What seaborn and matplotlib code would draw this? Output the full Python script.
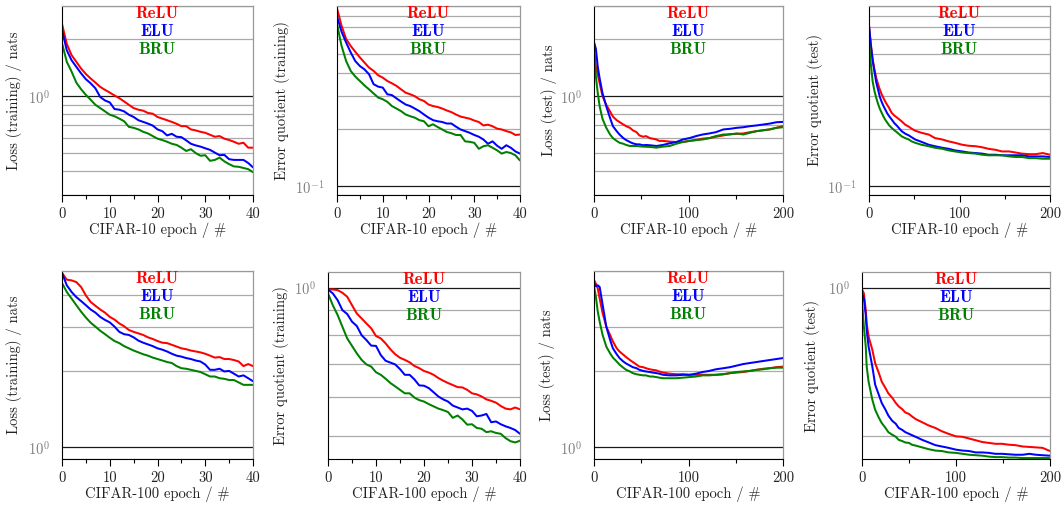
import numpy as np
import pandas as pd
import matplotlib
matplotlib.use("Agg")
import matplotlib.pyplot as plt
import seaborn as sns
from matplotlib.ticker import FixedLocator, FixedFormatter, NullFormatter, MultipleLocator

sns.set_theme(style="ticks")
plt.rcParams["font.family"] = "cmr10"
plt.rcParams["mathtext.fontset"] = "cm"
plt.rcParams["axes.unicode_minus"] = False

UNITS = ["ReLU", "ELU", "BRU"]
COLORS = {"ReLU": "#ff0000", "ELU": "#0000ff", "BRU": "#008000"}

# ---- CIFAR-10 (top row) ----
EPOCHS_40 = list(range(41))

c10_loss_train_relu = [2.41, 1.89, 1.65, 1.52, 1.40, 1.31, 1.24, 1.18, 1.12, 1.08, 1.045, 1.008, 0.976, 0.938, 0.90,
                       0.865, 0.848, 0.838, 0.815, 0.808, 0.776, 0.761, 0.746, 0.731, 0.714, 0.694, 0.694, 0.667,
                       0.659, 0.648, 0.64, 0.625, 0.61, 0.615, 0.596, 0.586, 0.574, 0.56, 0.567, 0.534, 0.534]
c10_loss_train_elu = [2.24, 1.75, 1.55, 1.43, 1.32, 1.23, 1.17, 1.10, 0.99, 0.949, 0.927, 0.855, 0.848, 0.831, 0.798,
                      0.776, 0.746, 0.731, 0.716, 0.699, 0.667, 0.653, 0.62, 0.632, 0.61, 0.607, 0.584, 0.56, 0.549,
                      0.541, 0.53, 0.52, 0.503, 0.487, 0.489, 0.464, 0.46, 0.46, 0.46, 0.443, 0.42]
c10_loss_train_bru = [1.91, 1.52, 1.35, 1.18, 1.088, 1.016, 0.957, 0.90, 0.865, 0.831, 0.798, 0.783, 0.761, 0.737,
                      0.688, 0.68, 0.667, 0.648, 0.635, 0.615, 0.596, 0.586, 0.574, 0.56, 0.552, 0.534, 0.513, 0.524,
                      0.50, 0.484, 0.487, 0.455, 0.46, 0.473, 0.452, 0.437, 0.425, 0.423, 0.417, 0.411, 0.396]

c10_err_train_relu = [0.874, 0.707, 0.601, 0.553, 0.515, 0.481, 0.452, 0.425, 0.408, 0.387, 0.376, 0.361, 0.351, 0.34,
                      0.326, 0.313, 0.307, 0.30, 0.289, 0.283, 0.271, 0.266, 0.263, 0.258, 0.252, 0.247, 0.24, 0.234,
                      0.231, 0.228, 0.223, 0.219, 0.21, 0.212, 0.208, 0.202, 0.2, 0.196, 0.193, 0.187, 0.188]
c10_err_train_elu = [0.793, 0.657, 0.576, 0.511, 0.46, 0.433, 0.416, 0.392, 0.347, 0.337, 0.333, 0.307, 0.304, 0.292,
                     0.281, 0.271, 0.266, 0.258, 0.25, 0.24, 0.231, 0.224, 0.221, 0.219, 0.215, 0.215, 0.207, 0.2,
                     0.196, 0.192, 0.187, 0.183, 0.177, 0.168, 0.173, 0.164, 0.158, 0.165, 0.16, 0.153, 0.149]
c10_err_train_bru = [0.722, 0.553, 0.46, 0.408, 0.381, 0.361, 0.342, 0.326, 0.31, 0.295, 0.289, 0.28, 0.266, 0.258,
                     0.25, 0.24, 0.235, 0.231, 0.224, 0.221, 0.208, 0.213, 0.206, 0.2, 0.194, 0.191, 0.187, 0.187,
                     0.173, 0.172, 0.17, 0.158, 0.163, 0.165, 0.16, 0.155, 0.149, 0.152, 0.15, 0.146, 0.137]

EPOCHS_TEST = [0, 2, 4, 6, 9, 13, 17, 20, 24, 27, 31, 34, 38, 41, 45, 48, 52, 55, 59, 62, 66, 69, 73, 80, 87, 94,
               101, 108, 115, 122, 129, 137, 144, 151, 158, 165, 172, 179, 186, 193, 200]

c10_loss_test_relu = [1.82, 1.43, 1.3, 1.17, 1.0, 0.90, 0.83, 0.78, 0.746, 0.73, 0.708, 0.694, 0.68, 0.66, 0.645, 0.62,
                      0.61, 0.615, 0.60, 0.596, 0.59, 0.58, 0.58, 0.575, 0.572, 0.572, 0.58, 0.586, 0.596, 0.60, 0.61,
                      0.62, 0.63, 0.632, 0.635, 0.645, 0.653, 0.66, 0.667, 0.68, 0.694]
c10_loss_test_elu = [1.93, 1.78, 1.43, 1.24, 1.037, 0.883, 0.767, 0.694, 0.653, 0.627, 0.60, 0.586, 0.572, 0.563,
                     0.556, 0.556, 0.55, 0.552, 0.55, 0.548, 0.545, 0.548, 0.552, 0.563, 0.572, 0.59, 0.60, 0.615,
                     0.627, 0.635, 0.645, 0.667, 0.672, 0.68, 0.685, 0.694, 0.70, 0.708, 0.716, 0.728, 0.731]
c10_loss_test_bru = [1.82, 1.27, 1.037, 0.883, 0.758, 0.68, 0.627, 0.60, 0.58, 0.567, 0.56, 0.552, 0.545, 0.545, 0.545,
                     0.543, 0.541, 0.54, 0.539, 0.537, 0.534, 0.537, 0.541, 0.545, 0.56, 0.572, 0.58, 0.586, 0.59,
                     0.60, 0.615, 0.627, 0.627, 0.635, 0.627, 0.64, 0.653, 0.66, 0.667, 0.68, 0.685]

EPOCHS_C10_ERR_TEST = [0, 2, 4, 6, 8, 10, 12, 14, 16, 18, 20, 22, 25, 28, 31, 36, 40, 44, 47, 51, 58, 66, 73, 81, 88,
                       95, 103, 110, 118, 125, 132, 140, 147, 155, 162, 169, 177, 184, 192, 200]
c10_err_test_relu = [0.707, 0.56, 0.47, 0.415, 0.375, 0.347, 0.325, 0.307, 0.293, 0.281, 0.27, 0.261, 0.245, 0.237,
                     0.231, 0.221, 0.212, 0.207, 0.202, 0.197, 0.192, 0.188, 0.18, 0.177, 0.173, 0.17, 0.166, 0.164,
                     0.163, 0.161, 0.158, 0.156, 0.153, 0.153, 0.151, 0.149, 0.148, 0.148, 0.15, 0.147]
c10_err_test_elu = [0.71, 0.565, 0.465, 0.405, 0.355, 0.325, 0.297, 0.28, 0.266, 0.255, 0.244, 0.236, 0.226, 0.216,
                    0.209, 0.196, 0.19, 0.186, 0.182, 0.177, 0.172, 0.166, 0.163, 0.16, 0.158, 0.155, 0.153, 0.151,
                    0.15, 0.149, 0.147, 0.147, 0.146, 0.146, 0.146, 0.146, 0.144, 0.144, 0.144, 0.143]
c10_err_test_bru = [0.589, 0.445, 0.36, 0.32, 0.294, 0.273, 0.257, 0.245, 0.234, 0.225, 0.218, 0.211, 0.204, 0.198,
                    0.193, 0.184, 0.18, 0.177, 0.173, 0.17, 0.166, 0.163, 0.16, 0.158, 0.155, 0.153, 0.151, 0.15,
                    0.149, 0.147, 0.146, 0.146, 0.146, 0.144, 0.143, 0.143, 0.141, 0.141, 0.14, 0.14]

# ---- CIFAR-100 (bottom row) ----
c100_loss_train_relu = [4.91, 4.62, 4.59, 4.52, 4.32, 4.0, 3.77, 3.64, 3.52, 3.42, 3.29, 3.21, 3.1, 3.02, 2.92, 2.87,
                        2.83, 2.79, 2.73, 2.69, 2.64, 2.6, 2.59, 2.55, 2.51, 2.47, 2.45, 2.42, 2.4, 2.38, 2.35, 2.31,
                        2.27, 2.28, 2.24, 2.24, 2.22, 2.19, 2.1, 2.14, 2.1]
c100_loss_train_elu = [4.91, 4.39, 4.13, 3.94, 3.8, 3.66, 3.52, 3.42, 3.29, 3.2, 3.13, 3.01, 2.87, 2.81, 2.79, 2.73,
                       2.65, 2.6, 2.56, 2.52, 2.47, 2.44, 2.4, 2.35, 2.31, 2.29, 2.26, 2.24, 2.21, 2.19, 2.13, 2.03,
                       2.03, 2.05, 2.0, 2.01, 1.96, 1.91, 1.93, 1.88, 1.83]
c100_loss_train_bru = [4.48, 4.13, 3.89, 3.66, 3.45, 3.27, 3.12, 3.01, 2.9, 2.81, 2.72, 2.64, 2.59, 2.52, 2.47, 2.42,
                       2.38, 2.34, 2.31, 2.27, 2.24, 2.21, 2.18, 2.16, 2.1, 2.06, 2.05, 2.03, 2.01, 1.99, 1.95, 1.91,
                       1.91, 1.88, 1.87, 1.85, 1.85, 1.81, 1.77, 1.77, 1.77]

c100_err_train_relu = [0.991, 0.991, 0.988, 0.976, 0.958, 0.921, 0.886, 0.866, 0.846, 0.827, 0.798, 0.789, 0.771, 0.75,
                       0.733, 0.721, 0.714, 0.706, 0.694, 0.687, 0.678, 0.673, 0.666, 0.656, 0.648, 0.641, 0.635,
                       0.629, 0.628, 0.621, 0.611, 0.608, 0.602, 0.594, 0.59, 0.585, 0.576, 0.569, 0.567, 0.572, 0.567]
c100_err_train_elu = [0.991, 0.973, 0.943, 0.9, 0.884, 0.853, 0.836, 0.801, 0.783, 0.763, 0.762, 0.73, 0.711, 0.705,
                      0.699, 0.684, 0.666, 0.666, 0.652, 0.634, 0.633, 0.626, 0.614, 0.602, 0.594, 0.588, 0.577, 0.572,
                      0.567, 0.569, 0.563, 0.549, 0.551, 0.555, 0.534, 0.536, 0.529, 0.524, 0.52, 0.515, 0.506]
c100_err_train_bru = [0.973, 0.921, 0.88, 0.833, 0.789, 0.762, 0.736, 0.714, 0.699, 0.692, 0.674, 0.666, 0.654, 0.641,
                      0.631, 0.621, 0.611, 0.611, 0.599, 0.592, 0.588, 0.581, 0.575, 0.569, 0.565, 0.56, 0.545, 0.551,
                      0.541, 0.528, 0.529, 0.52, 0.518, 0.51, 0.512, 0.508, 0.506, 0.496, 0.489, 0.486, 0.49]

c100_loss_test_relu = [4.61, 4.45, 4.26, 3.89, 3.42, 3.01, 2.79, 2.63, 2.47, 2.4, 2.33, 2.28, 2.22, 2.18, 2.13, 2.09,
                       2.08, 2.06, 2.04, 2.03, 2.02, 2.0, 1.98, 1.96, 1.95, 1.95, 1.94, 1.94, 1.94, 1.94, 1.94, 1.95,
                       1.97, 1.98, 1.99, 2.01, 2.03, 2.05, 2.06, 2.08, 2.09]
c100_loss_test_elu = [4.48, 4.35, 4.39, 4.32, 3.7, 3.01, 2.67, 2.47, 2.34, 2.26, 2.19, 2.15, 2.11, 2.08, 2.06, 2.03,
                      2.01, 2.0, 1.99, 1.98, 1.97, 1.96, 1.94, 1.93, 1.93, 1.94, 1.94, 1.96, 1.99, 2.01, 2.04, 2.06,
                      2.08, 2.11, 2.14, 2.16, 2.18, 2.2, 2.22, 2.24, 2.26]
c100_loss_test_bru = [4.35, 3.95, 3.45, 3.15, 2.8, 2.51, 2.36, 2.27, 2.19, 2.13, 2.07, 2.03, 2.0, 1.97, 1.95, 1.94,
                      1.93, 1.93, 1.91, 1.91, 1.9, 1.89, 1.88, 1.88, 1.88, 1.89, 1.9, 1.91, 1.93, 1.93, 1.94, 1.95,
                      1.97, 1.99, 2.0, 2.01, 2.03, 2.04, 2.06, 2.07, 2.07]

EPOCHS_C100_ERR_TEST = [0, 2, 4, 5, 7, 11, 14, 18, 21, 25, 28, 32, 36, 39, 43, 46, 50, 53, 57, 64, 71, 78, 85, 92,
                        100, 107, 114, 121, 128, 135, 142, 149, 156, 163, 171, 178, 185, 192, 200]
c100_err_test_relu = [0.991, 0.973, 0.9, 0.846, 0.796, 0.748, 0.703, 0.671, 0.645, 0.626, 0.611, 0.599, 0.584, 0.575,
                      0.567, 0.559, 0.555, 0.549, 0.542, 0.534, 0.526, 0.52, 0.512, 0.506, 0.5, 0.499, 0.495, 0.491,
                      0.487, 0.485, 0.483, 0.483, 0.481, 0.48, 0.477, 0.476, 0.475, 0.474, 0.467]
c100_err_test_elu = [0.973, 0.95, 0.88, 0.82, 0.76, 0.692, 0.636, 0.606, 0.584, 0.566, 0.551, 0.538, 0.53, 0.52, 0.515,
                     0.51, 0.506, 0.503, 0.499, 0.492, 0.486, 0.48, 0.477, 0.474, 0.47, 0.468, 0.467, 0.464, 0.464,
                     0.463, 0.461, 0.461, 0.46, 0.459, 0.459, 0.461, 0.459, 0.458, 0.457]
c100_err_test_bru = [0.935, 0.833, 0.76, 0.692, 0.645, 0.593, 0.566, 0.545, 0.532, 0.52, 0.51, 0.504, 0.499, 0.492,
                     0.489, 0.486, 0.485, 0.481, 0.479, 0.475, 0.471, 0.468, 0.467, 0.464, 0.463, 0.461, 0.459, 0.458,
                     0.457, 0.455, 0.454, 0.454, 0.453, 0.453, 0.452, 0.452, 0.452, 0.452, 0.452]

W, H = 1062, 507
fig = plt.figure(figsize=(W / 100, H / 100), dpi=100)

# log-scale gridline candidates (0.02..0.09, 0.2..0.9, 2..9)
MINOR_CANDIDATES = [m * 10.0 ** e for e in (-2, -1, 0) for m in range(2, 10)]


def draw_panel(box, epochs, relu, elu, bru, ylim, major, major_label, xmax, xlabel, ylabel, ylab_off):
    x0, y0, x1, y1 = box
    ax = fig.add_axes([x0 / W, (H - y1) / H, (x1 - x0) / W, (y1 - y0) / H])
    w, h = x1 - x0, y1 - y0

    df = pd.DataFrame({
        "epoch": list(epochs) * 3,
        "value": list(relu) + list(elu) + list(bru),
        "unit": [u for u in UNITS for _ in epochs],
    })
    sns.lineplot(data=df, x="epoch", y="value", hue="unit", hue_order=UNITS, palette=COLORS,
                 estimator=None, errorbar=None, linewidth=1.45, legend=False, ax=ax)

    ax.set_yscale("log")
    ax.set_ylim(*ylim)
    ax.set_xlim(0, xmax)

    ax.yaxis.set_major_locator(FixedLocator([major]))
    ax.yaxis.set_major_formatter(FixedFormatter([major_label]))
    minors = [v for v in MINOR_CANDIDATES if ylim[0] * 0.999 <= v <= ylim[1] * 1.001]
    ax.yaxis.set_minor_locator(FixedLocator(minors))
    ax.yaxis.set_minor_formatter(NullFormatter())
    ax.set_axisbelow(True)
    ax.yaxis.grid(True, which="major", color="#1a1a1a", linewidth=0.9)
    ax.yaxis.grid(True, which="minor", color="#aaaaaa", linewidth=0.9)
    ax.xaxis.grid(False)

    step = 10 if xmax == 40 else 100
    ax.xaxis.set_major_locator(MultipleLocator(step))
    ax.xaxis.set_minor_locator(MultipleLocator(step / 2))
    ax.tick_params(axis="x", which="major", bottom=True, direction="out", length=5, width=0.8,
                   color="black", labelsize=10.5, pad=4, labelcolor="#222222")
    ax.tick_params(axis="x", which="minor", bottom=True, direction="out", length=3, width=0.8, color="black")
    ax.tick_params(axis="y", which="both", left=False, length=0, labelsize=10.5, pad=9, labelcolor="#808080")

    for side in ("left", "bottom"):
        ax.spines[side].set_color("black")
        ax.spines[side].set_linewidth(0.8)
    for side in ("top", "right"):
        ax.spines[side].set_visible(True)
        ax.spines[side].set_color("#999999")
        ax.spines[side].set_linewidth(0.9)

    ax.set_xlabel(xlabel, fontsize=10.5, color="#222222")
    ax.xaxis.set_label_coords(0.5, -28 / h)
    ax.set_ylabel(ylabel, fontsize=10.5, color="#222222")
    ax.yaxis.set_label_coords(-(ylab_off - 7) / w, 0.5)

    for i, u in enumerate(UNITS):
        ax.text(0.5, 1 - (7.5 + 18 * i) / h, u, transform=ax.transAxes, ha="center", va="center",
                family="cmb10", fontsize=12, color=COLORS[u])
    return ax


C10 = "CIFAR-10 epoch / #"
C100 = "CIFAR-100 epoch / #"

draw_panel((62, 6, 253, 195), EPOCHS_40, c10_loss_train_relu, c10_loss_train_elu, c10_loss_train_bru,
           (0.3, 3.0), 1.0, r"$10^{0}$", 40, C10, "Loss (training) / nats", 47)
draw_panel((337, 6, 520, 195), EPOCHS_40, c10_err_train_relu, c10_err_train_elu, c10_err_train_bru,
           (0.09, 0.9), 0.1, r"$10^{-1}$", 40, C10, "Error quotient (training)", 54)
draw_panel((594, 6, 783, 195), EPOCHS_TEST, c10_loss_test_relu, c10_loss_test_elu, c10_loss_test_bru,
           (0.3, 3.0), 1.0, r"$10^{0}$", 200, C10, "Loss (test) / nats", 44)
draw_panel((869, 6, 1050, 195), EPOCHS_C10_ERR_TEST, c10_err_test_relu, c10_err_test_elu, c10_err_test_bru,
           (0.09, 0.9), 0.1, r"$10^{-1}$", 200, C10, "Error quotient (test)", 53)

draw_panel((62, 271, 253, 459), EPOCHS_40, c100_loss_train_relu, c100_loss_train_elu, c100_loss_train_bru,
           (0.9, 5.0), 1.0, r"$10^{0}$", 40, C100, "Loss (training) / nats", 47)
draw_panel((328, 272, 520, 459), EPOCHS_40, c100_err_train_relu, c100_err_train_elu, c100_err_train_bru,
           (0.45, 1.075), 1.0, r"$10^{0}$", 40, C100, "Error quotient (training)", 46)
draw_panel((594, 271, 783, 459), EPOCHS_TEST, c100_loss_test_relu, c100_loss_test_elu, c100_loss_test_bru,
           (0.9, 5.0), 1.0, r"$10^{0}$", 200, C100, "Loss (test) / nats", 46)
draw_panel((862, 272, 1050, 459), EPOCHS_C100_ERR_TEST, c100_err_test_relu, c100_err_test_elu, c100_err_test_bru,
           (0.45, 1.075), 1.0, r"$10^{0}$", 200, C100, "Error quotient (test)", 49)

fig.savefig("out.png", dpi=100)
